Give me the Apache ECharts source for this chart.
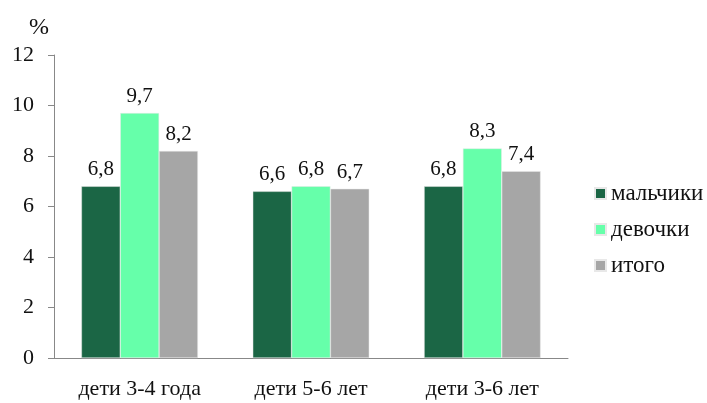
<!DOCTYPE html>
<html>
<head>
<meta charset="utf-8">
<script src="https://cdn.jsdelivr.net/npm/echarts@6/dist/echarts.min.js"></script>
<style>
  html, body { margin: 0; padding: 0; background: #fff; }
  #chart { width: 707px; height: 403px; }
</style>
</head>
<body>
<div id="chart"></div>
<script>
// данные
const categories = ['дети 3-4 года', 'дети 5-6 лет', 'дети 3-6 лет']
const boys = [6.8, 6.6, 6.8]
const girls = [9.7, 6.8, 8.3]
const total = [8.2, 6.7, 7.4]
const seriesNames = ['мальчики', 'девочки', 'итого']
const colors = ['#1b6645', '#66ffaa', '#a6a6a6']

const font = 'Liberation Serif, Times New Roman, serif'
const chart = echarts.init(document.getElementById('chart'))

function bar(name, data, color) {
  return {
    name,
    type: 'bar',
    data,
    barGap: 0,
    barCategoryGap: '32%',
    itemStyle: { color, borderColor: '#e8e8e8', borderWidth: 0.5 },
    label: {
      show: true,
      position: 'top',
      distance: 6,
      color: '#111',
      fontFamily: font,
      fontSize: 21,
      formatter: p => String(p.value).replace('.', ',')
    }
  }
}

chart.setOption({
  animation: false,
  color: colors,
  textStyle: { fontFamily: font },
  grid: { left: 54, right: 139, top: 55, bottom: 45 },
  legend: {
    orient: 'vertical',
    left: 589,
    top: 177,
    itemWidth: 11,
    itemHeight: 11,
    itemGap: 13,
    icon: 'rect',
    textStyle: { fontFamily: font, fontSize: 23, color: '#111' },
    data: seriesNames
  },
  xAxis: {
    type: 'category',
    data: categories,
    axisLine: { lineStyle: { color: '#888' } },
    axisTick: { length: 6, lineStyle: { color: '#888' } },
    axisLabel: { fontFamily: font, fontSize: 22, color: '#111', margin: 20 }
  },
  yAxis: {
    type: 'value',
    min: 0,
    max: 12,
    interval: 2,
    name: '%',
    nameLocation: 'end',
    nameGap: 15,
    nameTextStyle: { fontFamily: font, fontSize: 24, color: '#111', align: 'right', padding: [0, 5, 0, 0] },
    splitLine: { show: false },
    axisLine: { show: true, lineStyle: { color: '#888' } },
    axisTick: { show: true, length: 6, lineStyle: { color: '#888' } },
    axisLabel: { fontFamily: font, fontSize: 22, color: '#111', margin: 20 }
  },
  series: [
    bar(seriesNames[0], boys, colors[0]),
    bar(seriesNames[1], girls, colors[1]),
    bar(seriesNames[2], total, colors[2])
  ]
})
</script>
</body>
</html>
